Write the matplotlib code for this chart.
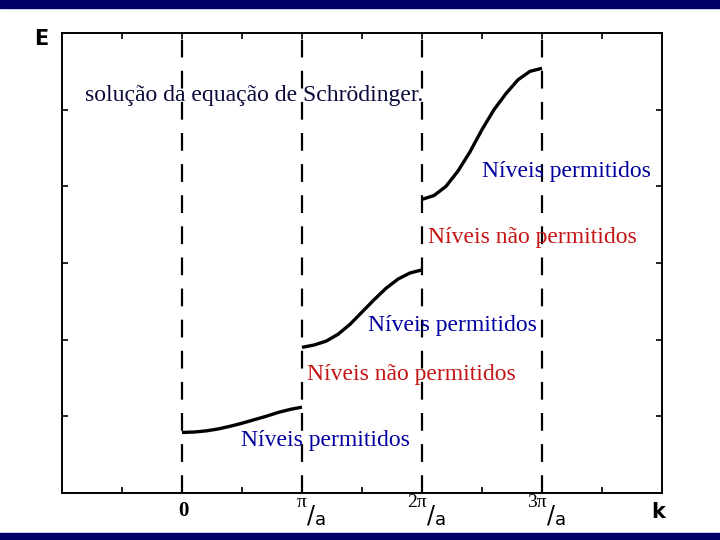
import matplotlib.pyplot as plt
from matplotlib.patches import Rectangle

# band curves, k in units of pi/a, E in arbitrary units
k_band1 = [0.0, 0.1, 0.2, 0.3, 0.4, 0.5, 0.6, 0.7, 0.8, 0.9, 1.0]
E_band1 = [0.79, 0.795, 0.81, 0.835, 0.87, 0.91, 0.955, 1.00, 1.05, 1.09, 1.12]
k_band2 = [1.0, 1.1, 1.2, 1.3, 1.4, 1.5, 1.6, 1.7, 1.8, 1.9, 2.0]
E_band2 = [1.90, 1.93, 1.98, 2.07, 2.20, 2.36, 2.52, 2.67, 2.79, 2.87, 2.91]
k_band3 = [2.0, 2.1, 2.2, 2.3, 2.4, 2.5, 2.6, 2.7, 2.8, 2.9, 3.0]
E_band3 = [3.83, 3.88, 4.00, 4.20, 4.45, 4.74, 5.00, 5.21, 5.39, 5.50, 5.54]

zone_edges = [0, 1, 2, 3]
numerators = ['0', 'π', '2π', '3π']

labels = ['Níveis permitidos', 'Níveis não permitidos', 'Níveis permitidos',
          'Níveis não permitidos', 'Níveis permitidos']
label_k = [2.50, 2.05, 1.55, 1.04, 0.49]
label_E = [4.19, 3.33, 2.18, 1.55, 0.69]
label_colors = ['#0000a0', '#c41414', '#0000a0', '#c41414', '#0000a0']

fig = plt.figure(figsize=(7.2, 5.4), dpi=100)
ax = fig.add_axes([62 / 720, 47 / 540, 600 / 720, 460 / 540])

# navy bars top and bottom
fig.patches.append(Rectangle((0, 1 - 8 / 540), 1, 8 / 540, transform=fig.transFigure,
                             color='#000066', zorder=0))
fig.patches.append(Rectangle((0, 0), 1, 7 / 540, transform=fig.transFigure,
                             color='#000066', zorder=0))

for x in zone_edges:
    ax.axvline(x, color='black', lw=1.6, linestyle=(0, (8, 6)))

for k, E in [(k_band1, E_band1), (k_band2, E_band2), (k_band3, E_band3)]:
    ax.plot(k, E, color='black', lw=2.4, solid_capstyle='butt', solid_joinstyle='round')

ax.set_xlim(-1, 4)
ax.set_ylim(0, 6)
ax.set_xticks([-0.5, 0, 0.5, 1, 1.5, 2, 2.5, 3, 3.5])
ax.set_yticks([1, 2, 3, 4, 5])
ax.set_xticklabels([])
ax.set_yticklabels([])
ax.tick_params(direction='in', top=True, right=True, length=4.5, width=1.2)
for s in ax.spines.values():
    s.set_linewidth(1.4)

serif = ['Liberation Serif', 'DejaVu Serif']

ax.text(-0.81, 5.19, 'solução da equação de Schrödinger.', fontsize=17,
        family=serif, color='#0a0a3a', va='center', ha='left')
for t, x, y, c in zip(labels, label_k, label_E, label_colors):
    ax.text(x, y, t, fontsize=17, family=serif, color=c, va='center', ha='left')

# tick labels of the zone edges as small fractions
tr = ax.get_xaxis_transform()
ax.text(0.01, -0.039, '0', transform=tr, fontsize=15, family=serif,
        fontweight='bold', ha='center', va='center')
for x, num in zip(zone_edges[1:], numerators[1:]):
    ax.text(x + 0.04, -0.021, num, transform=tr, fontsize=14, family=serif,
            ha='right', va='center')
    ax.text(x + 0.075, -0.048, '/', transform=tr, fontsize=17, family='DejaVu Sans',
            ha='center', va='center')
    ax.text(x + 0.11, -0.059, 'a', transform=tr, fontsize=13, family='DejaVu Sans',
            ha='left', va='center')

ax.text(0.993, -0.041, 'k', transform=ax.transAxes, fontsize=15, fontweight='bold',
        ha='center', va='center')
ax.text(-0.035, 0.987, 'E', transform=ax.transAxes, fontsize=15, fontweight='bold',
        ha='center', va='center')

fig.savefig('out.png', dpi=100)
